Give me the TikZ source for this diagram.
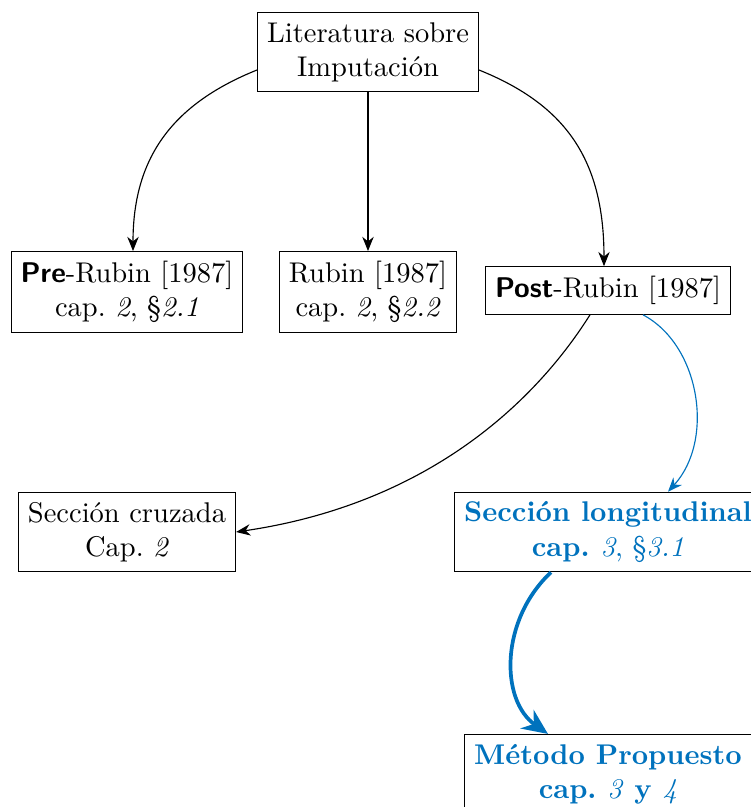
\documentclass[tikz,border=0pt]{standalone}
\usetikzlibrary{arrows.meta,calc}
\definecolor{mblue}{RGB}{0,114,189}
\begin{document}
\begin{tikzpicture}[x=0.01233cm,y=0.01233cm,
  box/.style={draw,align=center,inner sep=0.3333em},
  conn/.style={-{Stealth[length=5pt,width=4pt]}},
  bconn/.style={conn,draw=mblue},
  bigconn/.style={-{Stealth[length=9pt,width=8pt]},draw=mblue,line width=1.3pt}]
\useasboundingbox (0,0) rectangle (751,-807);
\node[box] (lit) at (368,-52) {Literatura sobre\\Imputación};
\node[box] (pre) at (127,-292) {\textsf{\bfseries Pre}-Rubin [1987]\\cap.~\textit{2}, §\textit{2.1}};
\node[box] (rub) at (368,-292) {Rubin [1987]\\cap.~\textit{2}, §\textit{2.2}};
\node[box] (post) at (608,-290.5) {\textsf{\bfseries Post}-Rubin [1987]};
\node[box] (cru) at (127,-532) {Sección cruzada\\Cap.~\textit{2}};
\node[box,text=mblue,font=\bfseries] (lon) at (608,-532) {Sección longitudinal\\cap.~\textmd{\textit{3}, §\textit{3.1}}};
\node[box,text=mblue,font=\bfseries] (met) at (608,-774) {Método Propuesto\\cap.~\textmd{\textit{3}} y \textmd{\textit{4}}};
\coordinate (litL) at ($(lit.west)+(0,-18)$);
\coordinate (litR) at ($(lit.east)+(0,-18)$);
\coordinate (preT) at ($(pre.north)+(6,0)$);
\coordinate (postT) at ($(post.north)+(-4,0)$);
\coordinate (postB1) at ($(post.south)+(-18,0)$);
\coordinate (postB2) at ($(post.south)+(35,0)$);
\coordinate (lonT) at ($(lon.north)+(60,0)$);
\coordinate (lonB) at ($(lon.south)+(-57,0)$);
\coordinate (metT) at ($(met.north)+(-60,0)$);
\draw[conn] (litL) .. controls (170,-105) and (133,-160) .. (preT);
\draw[conn] (lit) -- (rub);
\draw[conn] (litR) .. controls (566,-105) and (604,-160) .. (postT);
\draw[conn] (postB1) .. controls (530,-410) and (420,-505) .. (cru.east);
\draw[bconn] (postB2) .. controls (700,-345) and (715,-440) .. (lonT);
\draw[bigconn] (lonB) .. controls (500,-620) and (500,-700) .. (metT);
\end{tikzpicture}
\end{document}
